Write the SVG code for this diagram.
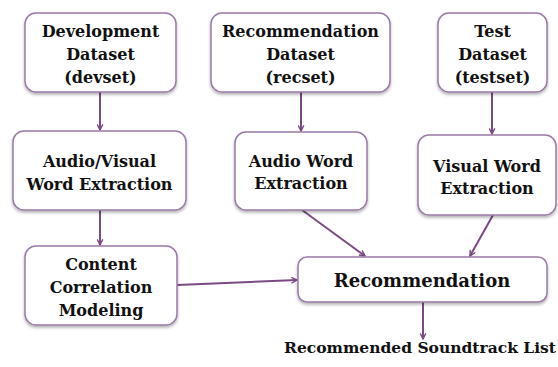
<svg xmlns="http://www.w3.org/2000/svg" width="558" height="367" viewBox="0 0 558 367">
<style>
.box{fill:#fff;stroke:#9a7aa6;stroke-width:1.5;filter:url(#sh)}
.t{font-family:"DejaVu Serif","Liberation Serif",serif;font-size:16px;font-weight:bold;fill:#111;text-anchor:middle}
.c{stroke:#7b4a84;stroke-width:2;fill:none;marker-end:url(#ah)}
</style>
<defs>
<filter id="sh" x="-10%" y="-10%" width="120%" height="130%"><feDropShadow dx="0" dy="2" stdDeviation="1.5" flood-color="#000" flood-opacity="0.3"/></filter>
<marker id="ah" viewBox="0 0 10 10" refX="9" refY="5" markerWidth="7" markerHeight="7" orient="auto" markerUnits="userSpaceOnUse"><path d="M1,1 L9,5 L1,9" fill="none" stroke="#7b4a84" stroke-width="2"/></marker>
</defs>
<g id="connectors">
<line class="c" x1="100" y1="92" x2="100" y2="130"/>
<line class="c" x1="301" y1="92" x2="301" y2="131"/>
<line class="c" x1="492" y1="92" x2="492" y2="134"/>
<line class="c" x1="100" y1="210" x2="100" y2="245"/>
<line class="c" x1="302" y1="210" x2="365" y2="256"/>
<line class="c" x1="493" y1="215" x2="470" y2="256"/>
<line class="c" x1="177" y1="285" x2="297" y2="280"/>
<line class="c" x1="423" y1="302" x2="423" y2="339"/>
</g>
<g id="devset"><rect class="box" x="25" y="13" width="151" height="79" rx="11"/>
<text class="t" x="100.5" y="37">Development</text><text class="t" x="100.5" y="60">Dataset</text><text class="t" x="100.5" y="83">(devset)</text></g>
<g id="recset"><rect class="box" x="211" y="13" width="179" height="79" rx="11"/>
<text class="t" x="300.5" y="37">Recommendation</text><text class="t" x="300.5" y="60">Dataset</text><text class="t" x="300.5" y="83">(recset)</text></g>
<g id="testset"><rect class="box" x="438" y="13" width="109" height="79" rx="11"/>
<text class="t" x="492.5" y="37">Test</text><text class="t" x="492.5" y="60">Dataset</text><text class="t" x="492.5" y="83">(testset)</text></g>
<g id="avextract"><rect class="box" x="13" y="131" width="173" height="79" rx="11"/>
<text class="t" x="99.5" y="167">Audio/Visual</text><text class="t" x="99.5" y="190">Word Extraction</text></g>
<g id="audioextract"><rect class="box" x="235" y="132" width="132" height="78" rx="11"/>
<text class="t" x="301" y="167">Audio Word</text><text class="t" x="301" y="189">Extraction</text></g>
<g id="visualextract"><rect class="box" x="418" y="135" width="138" height="80" rx="11"/>
<text class="t" x="487" y="172">Visual Word</text><text class="t" x="487" y="194">Extraction</text></g>
<g id="correlation"><rect class="box" x="25" y="246" width="152" height="79" rx="11"/>
<text class="t" x="101" y="270">Content</text><text class="t" x="101" y="293">Correlation</text><text class="t" x="101" y="316">Modeling</text></g>
<g id="recommendation"><rect class="box" x="298" y="257" width="249" height="45" rx="9"/>
<text class="t" x="422" y="287" style="font-size:18px">Recommendation</text></g>
<g id="output"><text class="t" x="420" y="353" style="font-size:15.5px">Recommended Soundtrack List</text></g>
</svg>
